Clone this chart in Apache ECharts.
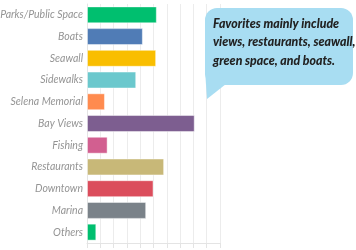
<!DOCTYPE html>
<html>
<head>
<meta charset="utf-8">
<script src="https://cdn.jsdelivr.net/npm/echarts@6/dist/echarts.min.js"></script>
<style>
  html, body { margin: 0; padding: 0; background: #fff; }
  #chart { width: 356px; height: 250px; }
</style>
</head>
<body>
<div id="chart"></div>
<script>
// categories top to bottom
var categories = ['Parks/Public Space', 'Boats', 'Seawall', 'Sidewalks', 'Selena Memorial',
    'Bay Views', 'Fishing', 'Restaurants', 'Downtown', 'Marina', 'Others']
var values = [5.25, 4.2, 5.2, 3.7, 1.35, 8.1, 1.55, 5.8, 5.0, 4.45, 0.7]
var barColors = ['#00bf6f', '#507cb6', '#f9be00', '#6bc8cd', '#ff8b4f',
    '#7d5e90', '#d25f90', '#c8b878', '#db4d5c', '#7a8289', '#00bf6f']
var noteLines = ['Favorites mainly include', 'views, restaurants, seawall,', 'green space, and boats.']

var labelFont = 'Lato, "Liberation Sans", Arial, sans-serif'

var myChart = echarts.init(document.getElementById('chart'))

let option = {
    animation: false,
    grid: {
        left: 87,
        right: 136,
        top: 4,
        bottom: 7,
        outerBoundsMode: 'none'
    },
    xAxis: {
        type: 'value',
        min: 0,
        max: 10,
        interval: 1,
        axisLine: { show: true, lineStyle: { color: '#e4e4e4' } },
        axisTick: { show: true, length: 5, lineStyle: { color: '#e4e4e4' } },
        axisLabel: { show: false },
        splitLine: { lineStyle: { color: '#ececec' } }
    },
    yAxis: {
        type: 'category',
        inverse: true,
        data: categories,
        axisLine: { show: true, lineStyle: { color: '#e4e4e4' } },
        axisTick: { show: false },
        axisLabel: {
            color: '#949494',
            fontStyle: 'italic',
            fontFamily: labelFont,
            fontSize: 10.5,
            margin: 4
        }
    },
    series: [{
        type: 'bar',
        barCategoryGap: '22%',
        data: values.map((v, i) => ({
            value: v,
            itemStyle: { color: barColors[i] }
        })),
        itemStyle: {
            borderColor: 'rgba(255,255,255,0.45)',
            borderWidth: 1
        }
    }],
    // callout bubble
    graphic: [
        {
            type: 'rect',
            shape: { x: 205, y: 8, width: 148, height: 77, r: 12 },
            style: { fill: '#a8ddf2' },
            z: 100
        },
        {
            type: 'polygon',
            shape: { points: [[205, 70], [207, 99], [226, 84], [218, 70]] },
            style: { fill: '#a8ddf2' },
            z: 100
        },
        {
            type: 'text',
            x: 213,
            y: 14,
            scaleX: 0.88,
            z: 101,
            style: {
                text: noteLines.join('\n'),
                fill: '#222',
                font: 'italic 900 14px ' + labelFont,
                lineHeight: 18.5
            }
        }
    ]
}

myChart.setOption(option)
</script>
</body>
</html>
